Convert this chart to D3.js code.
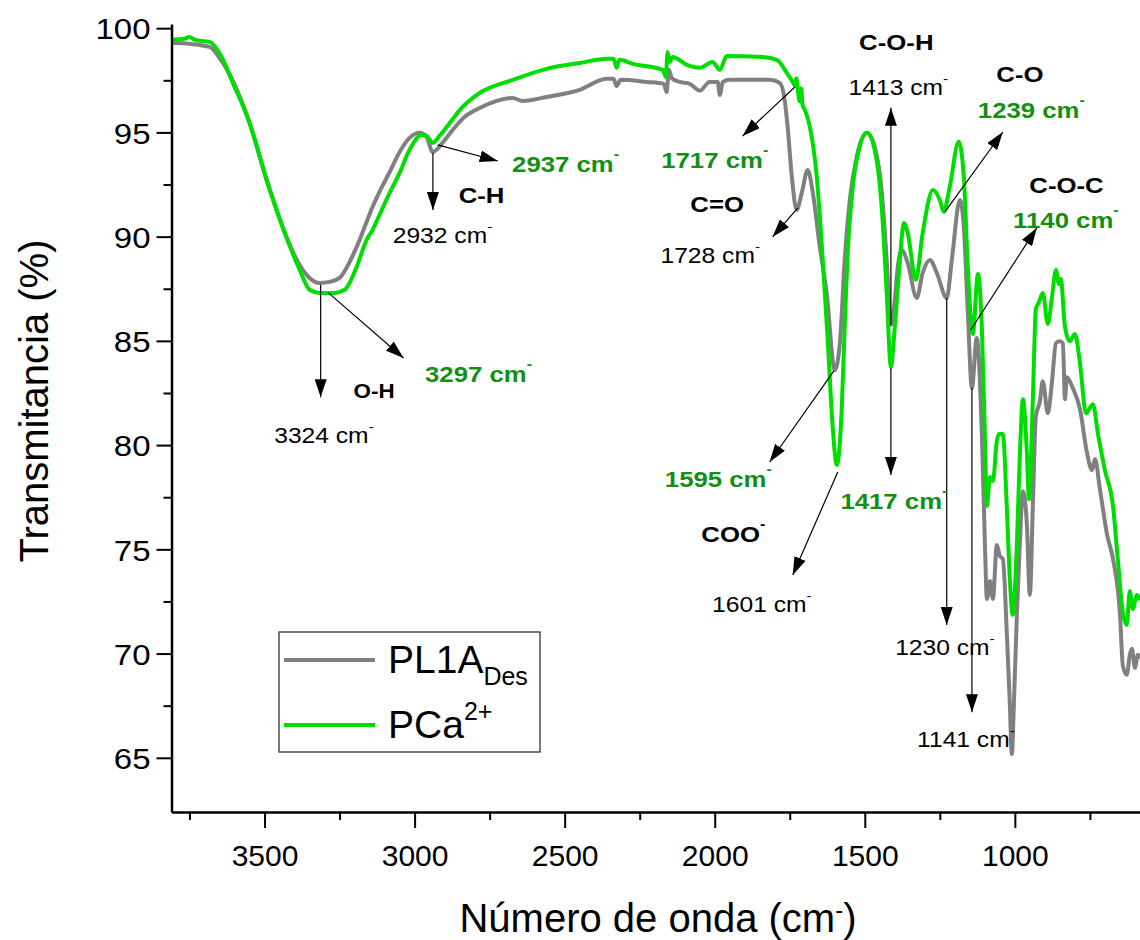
<!DOCTYPE html>
<html>
<head>
<meta charset="utf-8">
<script src="https://cdn.jsdelivr.net/npm/d3@7"></script>
<style>
  html, body { margin: 0; padding: 0; background: #fff; }
  svg { display: block; }
  text { font-family: "Liberation Sans", Arial, sans-serif; }
</style>
</head>
<body>
<svg id="chart" width="1140" height="940"></svg>
<script>
// FTIR spectra: wavenumber (cm-1) and transmittance (%)
const pl1aWavenumber = [3810,3750,3683,3650,3607,3550,3493,3440,3383,3350,3317,3283,3250,3217,3193,3160,3140,3117,3083,3050,3017,2983,2960,2940,2907,2873,2833,2783,2673,2640,2560,2450,2360,2337,2327,2313,2227,2170,2160,2153,2143,2117,2083,2050,2017,1990,1983,1973,1950,1817,1783,1767,1757,1743,1727,1710,1690,1673,1650,1627,1600,1583,1567,1550,1527,1493,1467,1443,1427,1413,1400,1390,1377,1357,1327,1307,1283,1260,1227,1210,1183,1170,1157,1143,1127,1110,1100,1093,1083,1073,1060,1050,1040,1027,1017,1010,1003,993,983,973,960,950,940,930,917,907,890,877,863,850,840,833,827,807,783,760,743,733,717,693,673,650,640,627,617,610,600,590,583];
const pl1aTransmittance = [99.30,99.25,99.10,98.57,97.52,95.46,92.72,90.47,88.64,88.02,87.78,87.83,88.02,88.77,89.51,90.70,91.43,92.15,93.10,94.06,94.74,94.98,94.78,94.06,94.50,95.12,95.75,96.17,96.65,96.51,96.70,97.04,97.57,97.57,97.23,97.52,97.42,97.33,96.94,98.00,97.60,97.42,97.33,97.00,97.42,97.42,96.80,97.42,97.52,97.52,97.37,96.56,95.26,92.87,91.28,92.10,93.20,92.10,89.51,87.30,83.60,84.90,88.88,91.76,93.83,94.98,94.31,92.10,88.88,85.76,86.96,88.55,89.36,88.74,87.06,88.26,88.88,88.26,87.06,88.88,91.76,90.47,86.48,82.74,85.14,80.53,75.39,72.62,73.48,72.62,75.21,74.68,74.54,71.08,67.68,65.18,67.68,71.95,75.39,77.79,76.21,72.81,77.08,81.38,82.06,83.06,81.53,82.92,84.89,84.98,84.89,82.20,83.25,82.74,81.73,79.66,78.80,79.33,77.94,75.73,74.54,71.95,69.41,68.98,69.94,70.23,69.32,69.94,69.75];

const pcaWavenumber = [3810,3767,3750,3733,3683,3643,3607,3550,3493,3440,3383,3350,3317,3267,3233,3193,3160,3140,3117,3083,3050,3017,2977,2960,2940,2917,2893,2840,2783,2673,2560,2450,2360,2337,2327,2317,2273,2173,2163,2157,2150,2140,2093,2050,2007,1983,1960,1840,1793,1760,1740,1733,1728,1722,1717,1712,1707,1700,1683,1660,1640,1623,1607,1593,1577,1567,1557,1540,1517,1493,1467,1443,1427,1413,1400,1383,1370,1357,1330,1307,1273,1250,1237,1217,1187,1170,1157,1140,1123,1110,1100,1093,1083,1073,1060,1053,1040,1027,1017,1007,993,983,973,960,953,940,930,920,907,890,877,863,853,847,833,817,800,783,763,740,723,700,673,657,640,627,617,607,593,583];
const pcaTransmittance = [99.44,99.49,99.58,99.44,99.34,98.62,97.42,95.46,92.72,90.47,88.41,87.45,87.30,87.30,87.45,88.55,89.84,90.32,91.04,92.10,93.06,94.16,94.88,94.83,94.50,94.83,95.26,96.22,96.89,97.52,98.05,98.33,98.53,98.53,98.10,98.48,98.29,98.00,97.66,98.86,98.38,98.62,98.24,98.10,98.38,98.00,98.67,98.62,98.48,97.86,97.42,97.25,97.60,96.90,96.50,97.10,96.30,96.10,95.26,92.87,88.88,84.90,80.87,79.05,81.69,85.67,89.22,92.39,94.31,94.98,94.16,91.28,87.30,83.75,85.67,88.88,90.66,90.18,87.93,90.18,92.24,91.76,91.19,92.39,94.55,92.87,88.64,85.33,88.21,85.67,80.53,77.08,78.47,78.28,80.20,80.53,80.53,77.08,73.67,71.85,75.39,79.66,82.20,79.66,77.41,82.20,86.52,86.84,87.30,85.81,87.01,88.40,87.73,87.97,85.67,84.98,85.33,83.93,81.53,81.96,80.53,78.80,77.08,74.54,71.95,71.37,73.00,72.14,72.81,72.57];

// Axis ticks
const xMajorTicks = [3500, 3000, 2500, 2000, 1500, 1000];
const xMinorTicks = [3750, 3250, 2750, 2250, 1750, 1250, 750];
const yMajorTicks = [65, 70, 75, 80, 85, 90, 95, 100];
const yMinorTicks = [67.5, 72.5, 77.5, 82.5, 87.5, 92.5, 97.5];

// Band assignments: arrows [fromWn, fromT] -> [toWn, toT]
const arrowFromWn = [3313, 3287, 2939, 2923, 1733, 1723, 1413, 1413, 1233, 1147, 1603, 1590, 1227, 1143];
const arrowFromT  = [87.7, 87.3, 94.02, 94.40, 97.18, 91.38, 85.76, 83.70, 91.19, 85.52, 83.56, 78.71, 87.06, 82.74];
const arrowToWn   = [3313, 3037, 2939, 2723, 1907, 1807, 1413, 1413, 1040, 927, 1817, 1740, 1227, 1143];
const arrowToT    = [82.3, 84.18, 91.28, 93.63, 94.83, 89.99, 96.18, 78.57, 95.02, 90.42, 79.19, 73.77, 71.37, 67.19];

// Band labels: text, anchor wavenumber, anchor transmittance, kind
const bandText = ["3324 cm", "O-H", "3297 cm", "2932 cm", "C-H", "2937 cm", "1717 cm", "C=O", "1728 cm",
                  "C-O-H", "1413 cm", "C-O", "1239 cm", "C-O-C", "1140 cm", "1595 cm", "COO", "1417 cm",
                  "1601 cm", "1230 cm", "1141 cm"];
const bandWn   = [3302, 3135, 2787, 2907, 2777, 2497, 2000, 1992, 2015,
                  1395, 1388, 983, 945, 828, 830, 1988, 1938, 1403,
                  1843, 1233, 1163];
const bandT    = [80.10, 82.26, 83.03, 89.70, 91.62, 93.10, 93.30, 91.19, 88.74,
                  98.96, 96.80, 97.42, 95.70, 92.10, 90.42, 77.99, 75.35, 76.93,
                  71.99, 69.93, 65.51];
const bandKind = ["num", "groupSmall", "green", "num", "group", "green", "green", "group", "num",
                  "group", "num", "group", "green", "group", "green", "green", "group", "green",
                  "num", "num", "num"];

const svg = d3.select("#chart");
const plotLeft = 171.5, plotBottom = 812, plotTop = 24, plotRight = 1140;

const x = d3.scaleLinear().domain([3810, 583]).range([plotLeft, plotRight]);
const y = d3.scaleLinear().domain([62.4, 100.2]).range([plotBottom, plotTop]);

const GRAY = "#808080";
const GREEN = "#00dd00";
const GREEN_TEXT = "#138f13";

const defs = svg.append("defs");
defs.append("clipPath").attr("id", "plotClip")
  .append("rect").attr("x", plotLeft).attr("y", plotTop - 10)
  .attr("width", plotRight - plotLeft).attr("height", plotBottom - plotTop + 10);

const marker = defs.append("marker")
  .attr("id", "arrowHead")
  .attr("viewBox", "0 0 18 12")
  .attr("refX", 18).attr("refY", 6)
  .attr("markerWidth", 18).attr("markerHeight", 12)
  .attr("markerUnits", "userSpaceOnUse")
  .attr("orient", "auto");
marker.append("path").attr("d", "M0,0 L18,6 L0,12 Z").attr("fill", "#000");

// Spectra
const line = d3.line().x(d => x(d[0])).y(d => y(d[1])).curve(d3.curveMonotoneX);
const pl1a = pl1aWavenumber.map((w, i) => [w, pl1aTransmittance[i]]);
const pca = pcaWavenumber.map((w, i) => [w, pcaTransmittance[i]]);

const plot = svg.append("g").attr("clip-path", "url(#plotClip)");
plot.append("path").datum(pl1a).attr("d", line)
  .attr("fill", "none").attr("stroke", GRAY).attr("stroke-width", 4).attr("stroke-linejoin", "round");
plot.append("path").datum(pca).attr("d", line)
  .attr("fill", "none").attr("stroke", GREEN).attr("stroke-width", 4).attr("stroke-linejoin", "round");

// Axes
const fontStack = '"Liberation Sans", Arial, sans-serif';
const xAxisG = svg.append("g").attr("transform", `translate(0,${plotBottom})`);
xAxisG.append("g").call(d3.axisBottom(x).tickValues(xMinorTicks).tickSize(8).tickSizeOuter(0).tickFormat(""))
  .call(g => g.select(".domain").remove());
xAxisG.append("g").call(d3.axisBottom(x).tickValues(xMajorTicks).tickSize(16).tickSizeOuter(0).tickPadding(17).tickFormat(d3.format("d")))
  .call(g => g.select(".domain").attr("stroke-width", 2.5))
  .call(g => g.selectAll("text").attr("font-size", 30).attr("fill", "#000").style("font-family", fontStack));
xAxisG.selectAll(".tick line").attr("stroke-width", 2).attr("stroke", "#000");

const yAxisG = svg.append("g").attr("transform", `translate(${plotLeft},0)`);
yAxisG.append("g").call(d3.axisLeft(y).tickValues(yMinorTicks).tickSize(8).tickSizeOuter(0).tickFormat(""))
  .call(g => g.select(".domain").remove());
yAxisG.append("g").call(d3.axisLeft(y).tickValues(yMajorTicks).tickSize(15).tickSizeOuter(0).tickPadding(6).tickFormat(d3.format("d")))
  .call(g => g.select(".domain").attr("stroke-width", 2.5))
  .call(g => g.selectAll("text").attr("font-size", 30).attr("fill", "#000")
    .attr("x", -21 / 1.1).attr("dy", "0.36em").attr("transform", "scale(1.1,1)")
    .style("font-family", fontStack));
yAxisG.selectAll(".tick line").attr("stroke-width", 2).attr("stroke", "#000");

// Axis titles
svg.append("text")
  .attr("transform", "translate(48,401) rotate(-90)")
  .attr("text-anchor", "middle").attr("font-size", 40).attr("fill", "#000")
  .text("Transmitancia (%)");

const xt = svg.append("text")
  .attr("x", 658).attr("y", 932)
  .attr("text-anchor", "middle").attr("font-size", 40).attr("fill", "#000");
xt.append("tspan").text("Número de onda (cm");
xt.append("tspan").attr("font-size", 24).attr("dy", -14).text("-");
xt.append("tspan").attr("dy", 14).text(")");

// Arrows
const ann = svg.append("g");
arrowFromWn.forEach((w, i) => {
  ann.append("line")
    .attr("x1", x(w)).attr("y1", y(arrowFromT[i]))
    .attr("x2", x(arrowToWn[i])).attr("y2", y(arrowToT[i]))
    .attr("stroke", "#000").attr("stroke-width", 1.2)
    .attr("marker-end", "url(#arrowHead)");
});

// Band labels
const kindStyle = {
  num:        { size: 22, weight: "normal", fill: "#000" },
  green:      { size: 23, weight: "bold",   fill: GREEN_TEXT },
  group:      { size: 23, weight: "bold",   fill: "#000" },
  groupSmall: { size: 20, weight: "bold",   fill: "#000" }
};
bandText.forEach((t, i) => {
  const st = kindStyle[bandKind[i]];
  const txt = ann.append("text")
    .attr("transform", `translate(${x(bandWn[i])},${y(bandT[i])}) scale(1.12,1)`)
    .attr("text-anchor", "middle")
    .attr("font-size", st.size).attr("font-weight", st.weight).attr("fill", st.fill);
  txt.append("tspan").text(t);
  if (t.endsWith("cm") || t === "COO") {
    txt.append("tspan").attr("font-size", st.size * 0.62).attr("dy", -st.size * 0.55).text("-");
  }
});

// Legend
const lg = svg.append("g");
lg.append("rect").attr("x", 279).attr("y", 632).attr("width", 261).attr("height", 120)
  .attr("fill", "#fff").attr("stroke", "#4d4d4d").attr("stroke-width", 1.5);
lg.append("line").attr("x1", 284).attr("x2", 375).attr("y1", 660).attr("y2", 660)
  .attr("stroke", GRAY).attr("stroke-width", 4);
lg.append("line").attr("x1", 284).attr("x2", 375).attr("y1", 725).attr("y2", 725)
  .attr("stroke", GREEN).attr("stroke-width", 4);
const l1 = lg.append("text").attr("x", 388).attr("y", 673).attr("font-size", 39).attr("fill", "#000");
l1.append("tspan").text("PL1A");
l1.append("tspan").attr("font-size", 25).attr("dy", 12).text("Des");
const l2 = lg.append("text").attr("x", 388).attr("y", 738).attr("font-size", 39).attr("fill", "#000");
l2.append("tspan").text("PCa");
l2.append("tspan").attr("font-size", 25).attr("dy", -18).text("2+");
</script>
</body>
</html>
